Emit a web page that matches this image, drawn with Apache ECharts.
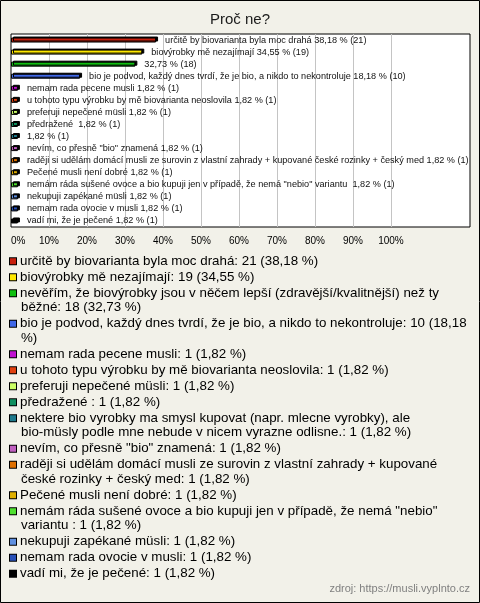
<!DOCTYPE html>
<html>
<head>
<meta charset="utf-8">
<script src="https://cdn.jsdelivr.net/npm/echarts@6/dist/echarts.min.js"></script>
<style>
html,body{margin:0;padding:0;background:#f2f1e9;}
#c{width:480px;height:603px;}
</style>
</head>
<body>
<div id="c"></div>
<script>
const categories = [
  'určitě by biovarianta byla moc drahá',
  'biovýrobky mě nezajímají',
  'nevěřím, že biovýrobky jsou v něčem lepší (zdravější/kvalitnější) než ty běžné',
  'bio je podvod, každý dnes tvrdí, že je bio, a nikdo to nekontroluje',
  'nemam rada pecene musli',
  'u tohoto typu výrobku by mě biovarianta neoslovila',
  'preferuji nepečené müsli',
  'předražené ',
  'nektere bio vyrobky ma smysl kupovat (napr. mlecne vyrobky), ale bio-müsly podle mne nebude v nicem vyrazne odlisne.',
  'nevím, co přesně "bio" znamená',
  'raději si udělám domácí musli ze surovin z vlastní zahrady + kupované české rozinky + český med',
  'Pečené musli není dobré',
  'nemám ráda sušené ovoce a bio kupuji jen v případě, že nemá "nebio" variantu ',
  'nekupuji zapékané müsli',
  'nemam rada ovocie v musli',
  'vadí mi, že je pečené'
];
const counts = [21, 19, 18, 10, 1, 1, 1, 1, 1, 1, 1, 1, 1, 1, 1, 1];
const percents = [38.18, 34.55, 32.73, 18.18, 1.82, 1.82, 1.82, 1.82, 1.82, 1.82, 1.82, 1.82, 1.82, 1.82, 1.82, 1.82];
const colors = ['#c8200e', '#ffe800', '#10c010', '#4068e8', '#c010d0', '#e04010', '#ccff66', '#109060',
                '#1e7a8c', '#c060c0', '#e07000', '#e0b000', '#50e030', '#6090e0', '#2850b8', '#000000'];
const barLabelShowsName = [true, true, false, true, true, true, true, true, false, true, true, true, true, true, true, true];
const legendWrapAt = [null, null, 'běžné', '%)', null, null, null, null, 'bio-müsly', null, 'české', null, 'variantu', null, null, null];
const xTickLabels = ['0%', '10%', '20%', '30%', '40%', '50%', '60%', '70%', '80%', '90%', '100%'];

const FONT = '"Liberation Sans", Arial, sans-serif';
const fmtPct = v => v.toFixed(2).replace('.', ',');

const legendText = categories.map((c, i) => c + ': ' + counts[i] + ' (' + fmtPct(percents[i]) + ' %)');

const LFS = 13.35, LLH = 14.5;
const rich = {
  t: { fontFamily: FONT, fontSize: LFS, lineHeight: LLH, color: '#000' },
  g: { width: 4, fontSize: LFS, lineHeight: LLH },
  ind: { width: 11, fontSize: LFS, lineHeight: LLH }
};
colors.forEach((col, i) => {
  rich['q' + i] = { width: 6, height: 6, backgroundColor: col, borderColor: '#000', borderWidth: 1, verticalAlign: 'middle', fontSize: 1, lineHeight: LLH };
});

const series = categories.map((name, i) => ({
  name: name,
  type: 'bar',
  stack: 'all',
  barWidth: 5,
  data: percents.map((v, j) => (j === i ? v : '-')),
  itemStyle: { color: colors[i], borderColor: '#000', borderWidth: 1, shadowColor: '#000', shadowOffsetX: 2, shadowOffsetY: -1, shadowBlur: 0 },
  label: {
    show: true,
    position: 'right',
    distance: 9,
    fontFamily: FONT,
    fontSize: 9.15,
    color: '#111',
    formatter: () => (barLabelShowsName[i] ? name + ' ' : '') + fmtPct(percents[i]) + ' % (' + counts[i] + ')'
  },
  emphasis: { disabled: true }
}));

const chart = echarts.init(document.getElementById('c'), null, { renderer: 'canvas' });
chart.setOption({
  animation: false,
  backgroundColor: '#f2f1e9',
  title: [
    { text: 'Proč ne?', left: 'center', top: 12, padding: 0,
      textStyle: { fontFamily: FONT, fontSize: 15, fontWeight: 'normal', color: '#1a1a1a' } },
    { text: 'zdroj: https://musli.vyplnto.cz', right: 10, bottom: 9, padding: 0,
      textStyle: { fontFamily: FONT, fontSize: 11, fontWeight: 'normal', color: '#808080' } }
  ],
  grid: { left: 11, right: 10, top: 34, height: 193, show: true, backgroundColor: '#fff', borderColor: '#000', borderWidth: 1 },
  xAxis: {
    type: 'value', min: 0, max: 120.8, interval: 10,
    axisLine: { show: false }, axisTick: { show: false },
    axisLabel: {
      fontFamily: FONT, fontSize: 10, color: '#000', margin: 9, alignMinLabel: 'left', showMaxLabel: false,
      formatter: v => (v <= 100 ? xTickLabels[Math.round(v / 10)] : '')
    },
    splitLine: {
      show: true, showMinLine: false, showMaxLine: false,
      lineStyle: { color: ['#c4c4c4', '#c4c4c4', '#c4c4c4', '#c4c4c4', '#c4c4c4', '#c4c4c4', '#c4c4c4', '#c4c4c4', '#c4c4c4', '#c4c4c4', 'rgba(0,0,0,0)', 'rgba(0,0,0,0)'], width: 1 }
    }
  },
  yAxis: {
    type: 'category', data: categories, inverse: true,
    axisLine: { show: false }, axisTick: { show: false }, axisLabel: { show: false }, splitLine: { show: false }
  },
  legend: {
    orient: 'vertical', left: 4, top: 254, padding: 0, itemGap: 1.5,
    itemWidth: 0, itemHeight: 0, selectedMode: false,
    itemStyle: { opacity: 0 },
    data: categories,
    textStyle: { fontFamily: FONT, fontSize: LFS, lineHeight: LLH, color: '#000', rich: rich },
    formatter: function (name) {
      const i = categories.indexOf(name);
      const txt = legendText[i];
      const br = legendWrapAt[i];
      if (br) {
        const k = txt.lastIndexOf(br);
        return '{q' + i + '| }{g| }{t|' + txt.slice(0, k).trim() + '}\n{ind| }{t|' + txt.slice(k) + '}';
      }
      return '{q' + i + '| }{g| }{t|' + txt + '}';
    }
  },
  graphic: [
    { type: 'rect', shape: { x: 0.5, y: 0.5, width: 479, height: 602 }, style: { fill: 'none', stroke: '#000', lineWidth: 1 }, silent: true }
  ],
  series: series
});
</script>
</body>
</html>
